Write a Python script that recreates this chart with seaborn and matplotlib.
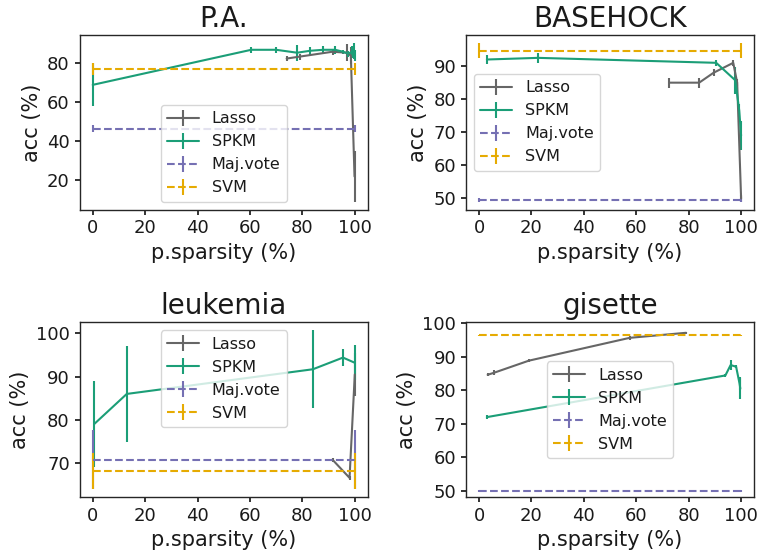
#!/usr/bin/env python3
import matplotlib
matplotlib.use("Agg")

import matplotlib.pyplot as plt
from matplotlib.ticker import MultipleLocator
import seaborn as sns

# P.A.
pa_lasso_x = [74, 79, 91.5, 97, 98.5, 99.9]
pa_lasso_y = [82.5, 83.5, 86, 85.5, 84, 22]
pa_lasso_err = [1.5, 1.5, 1.5, 4.5, 4.5, 13]
pa_spkm_x = [0, 60.5, 70, 78, 83, 88, 92.5, 95.5, 97.5, 99, 99.7, 100]
pa_spkm_y = [69, 87, 87, 85.5, 86.5, 87, 87, 86, 85, 86, 86.5, 84]
pa_spkm_err = [11, 1.5, 1.5, 4, 2, 2, 2, 1, 1.5, 3, 4, 3]
pa_maj, pa_maj_err = 46.5, 1.7
pa_svm, pa_svm_err = 77.2, 3.2

# BASEHOCK
bh_lasso_x = [72.5, 84, 89.5, 97, 98.5, 100]
bh_lasso_y = [85, 85, 88, 91, 85, 50]
bh_lasso_err = [1.5, 1.5, 1, 1, 1, 1]
bh_spkm_x = [3, 22.5, 90.5, 97.8, 99.3, 100]
bh_spkm_y = [92, 92.5, 91, 85.7, 76.5, 69]
bh_spkm_err = [1.5, 1.5, 1, 4, 2, 4.5]
bh_maj, bh_maj_err = 49.5, 0.5
bh_svm, bh_svm_err = 94.7, 2.3

# leukemia
lk_lasso_x = [91.5, 98, 100]
lk_lasso_y = [70.8, 66.6, 90.5]
lk_lasso_err = [0.5, 0.5, 5]
lk_spkm_x = [0.5, 13, 84, 95.5, 100]
lk_spkm_y = [79, 86, 91.7, 94.4, 93.2]
lk_spkm_err = [10, 11, 9, 2, 4]
lk_maj, lk_maj_err = 70.8, 6.8
lk_svm, lk_svm_err = 68.2, 4.1

# gisette
gs_lasso_x = [3.3, 5.7, 19, 57.5, 79]
gs_lasso_y = [84.6, 85.2, 88.8, 95.6, 97.1]
gs_lasso_err = [0.5, 0.8, 0.5, 0.5, 0.3]
gs_spkm_x = [3, 94, 96, 98.1, 99.4, 99.7]
gs_spkm_y = [72, 84.4, 87.5, 87, 82, 80.5]
gs_spkm_err = [0.5, 0.5, 1.5, 0.5, 2, 3]
gs_maj, gs_maj_err = 50, 0.2
gs_svm, gs_svm_err = 96.3, 0.2

panels = [
    ("P.A.", pa_lasso_x, pa_lasso_y, pa_lasso_err, pa_spkm_x, pa_spkm_y, pa_spkm_err,
     pa_maj, pa_maj_err, pa_svm, pa_svm_err, "lower center", 20, None),
    ("BASEHOCK", bh_lasso_x, bh_lasso_y, bh_lasso_err, bh_spkm_x, bh_spkm_y, bh_spkm_err,
     bh_maj, bh_maj_err, bh_svm, bh_svm_err, "center left", 10, None),
    ("leukemia", lk_lasso_x, lk_lasso_y, lk_lasso_err, lk_spkm_x, lk_spkm_y, lk_spkm_err,
     lk_maj, lk_maj_err, lk_svm, lk_svm_err, "upper center", 10, None),
    ("gisette", gs_lasso_x, gs_lasso_y, gs_lasso_err, gs_spkm_x, gs_spkm_y, gs_spkm_err,
     gs_maj, gs_maj_err, gs_svm, gs_svm_err, "center", 10, (48.2, 100.2)),
]

sns.set_theme(style="ticks", rc={
    "axes.edgecolor": "0.15",
    "axes.linewidth": 1.0,
    "xtick.color": "0.1",
    "ytick.color": "0.1",
    "xtick.major.size": 3.5,
    "ytick.major.size": 3.5,
    "text.color": "0.1",
    "axes.labelcolor": "0.1",
})
plt.rcParams["font.family"] = ["DejaVu Sans"]

dark2 = sns.color_palette("Dark2")
c_lasso = dark2[7]
c_spkm = dark2[0]
c_maj = dark2[2]
c_svm = dark2[5]

fig, axes = plt.subplots(2, 2, figsize=(7.58, 5.56), dpi=100)

for ax, (title, lx, ly, le, sx, sy, se, maj, maj_e, svm, svm_e, loc, ystep, ylim) in zip(axes.flat, panels):
    ax.errorbar(lx, ly, yerr=le, color=c_lasso, lw=1.5, label="Lasso")
    ax.errorbar(sx, sy, yerr=se, color=c_spkm, lw=1.5, label="SPKM")
    ax.errorbar([0, 100], [maj, maj], yerr=maj_e, color=c_maj, lw=1.5, ls="--", label="Maj.vote")
    ax.errorbar([0, 100], [svm, svm], yerr=svm_e, color=c_svm, lw=1.5, ls="--", label="SVM")
    ax.xaxis.set_major_locator(MultipleLocator(20))
    ax.yaxis.set_major_locator(MultipleLocator(ystep))
    if ylim is not None:
        ax.set_ylim(*ylim)
    ax.set_title(title, fontsize=20)
    ax.set_xlabel("p.sparsity (%)", fontsize=15)
    ax.set_ylabel("acc (%)", fontsize=15)
    ax.tick_params(labelsize=13)
    ax.legend(loc=loc, fontsize=11.5, framealpha=0.8)

plt.subplots_adjust(left=0.105, right=0.995, top=0.937, bottom=0.106, wspace=0.34, hspace=0.645)
plt.savefig("out.png", dpi=100)
plt.close()
